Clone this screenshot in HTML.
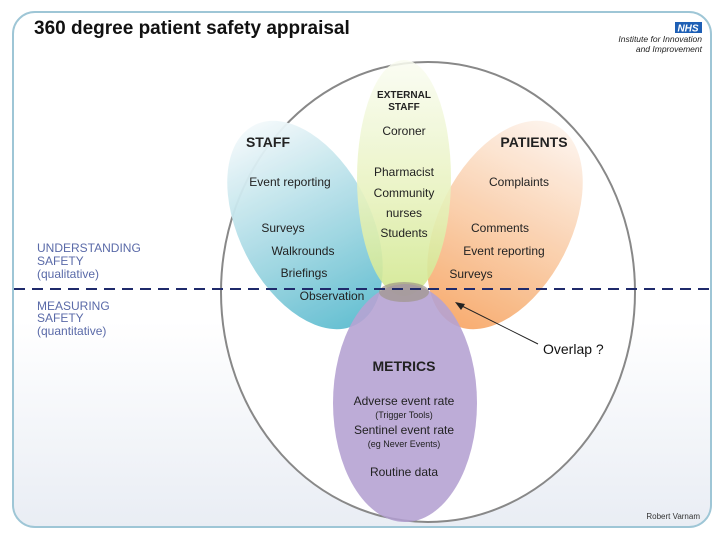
<!DOCTYPE html>
<html><head><meta charset="utf-8"><style>
body{margin:0;background:#fff;}
svg{display:block;font-family:"Liberation Sans","DejaVu Sans",sans-serif;}
</style></head><body>
<svg width="720" height="540" viewBox="0 0 720 540">
<defs>
<linearGradient id="bg" x1="0" y1="0" x2="0" y2="1"><stop offset="0" stop-color="#fff"/><stop offset="0.6" stop-color="#fff"/><stop offset="1" stop-color="#e9edf4"/></linearGradient>
<linearGradient id="gb" x1="0" y1="0" x2="0" y2="1"><stop offset="0" stop-color="#f3f9fb"/><stop offset="0.55" stop-color="#a3d8e3"/><stop offset="1" stop-color="#5fbdd0"/></linearGradient>
<linearGradient id="gg" x1="0" y1="0" x2="0" y2="1"><stop offset="0" stop-color="#fbfdf3"/><stop offset="0.6" stop-color="#e6f2b9"/><stop offset="1" stop-color="#cfe689"/></linearGradient>
<linearGradient id="go" x1="0" y1="0" x2="0" y2="1"><stop offset="0" stop-color="#fdf2ea"/><stop offset="0.55" stop-color="#f9c8a0"/><stop offset="1" stop-color="#f6a462"/></linearGradient>
</defs>
<rect x="13" y="12" width="698" height="515" rx="22" fill="url(#bg)" stroke="#9ec6d6" stroke-width="2"/>
<text x="34" y="34" font-size="19" font-weight="bold" fill="#111">360 degree patient safety appraisal</text>
<rect x="675" y="22" width="27" height="11" fill="#1d5fb5"/>
<text x="688" y="31.5" font-size="10" font-weight="bold" font-style="italic" fill="#fff" text-anchor="middle">NHS</text>
<text x="702" y="42" font-size="8.5" font-style="italic" fill="#222" text-anchor="end">Institute for Innovation</text>
<text x="702" y="52" font-size="8.5" font-style="italic" fill="#222" text-anchor="end">and Improvement</text>

<ellipse cx="428" cy="292" rx="207" ry="230" fill="#fff" stroke="#888" stroke-width="2"/>

<g opacity="0.95">
<ellipse cx="305" cy="225" rx="66" ry="112" transform="rotate(-27 305 225)" fill="url(#gb)"/>
<ellipse cx="505" cy="225" rx="66" ry="112" transform="rotate(27 505 225)" fill="url(#go)" opacity="0.95"/>
<ellipse cx="404" cy="178" rx="47" ry="118" fill="url(#gg)" opacity="0.9"/>
<ellipse cx="405" cy="403" rx="72" ry="119" fill="#b29fd0" opacity="0.9"/>
</g>
<ellipse cx="404" cy="292" rx="25" ry="10" fill="#a0968a" opacity="0.7"/>

<line x1="14" y1="289" x2="712" y2="289" stroke="#1f2a6b" stroke-width="2" stroke-dasharray="11,7"/>
<line x1="538" y1="344" x2="460" y2="305" stroke="#222" stroke-width="1"/>
<polygon points="455,302 465,304 461,310" fill="#222"/>

<g font-size="12" fill="#5a6aa8">
<text x="37" y="252">UNDERSTANDING</text><text x="37" y="265">SAFETY</text><text x="37" y="278">(qualitative)</text>
<text x="37" y="310">MEASURING</text><text x="37" y="322">SAFETY</text><text x="37" y="335">(quantitative)</text>
</g>
<g font-size="12" fill="#222" text-anchor="middle">
<text x="404" y="98" font-size="10" font-weight="bold">EXTERNAL</text>
<text x="404" y="110" font-size="10" font-weight="bold">STAFF</text>
<text x="404" y="135">Coroner</text>
<text x="404" y="176">Pharmacist</text>
<text x="404" y="197">Community</text>
<text x="404" y="217">nurses</text>
<text x="404" y="237">Students</text>
<text x="268" y="147" font-size="14" font-weight="bold">STAFF</text>
<text x="290" y="186">Event reporting</text>
<text x="283" y="232">Surveys</text>
<text x="303" y="255">Walkrounds</text>
<text x="304" y="277">Briefings</text>
<text x="332" y="300">Observation</text>
<text x="534" y="147" font-size="14" font-weight="bold">PATIENTS</text>
<text x="519" y="186">Complaints</text>
<text x="500" y="232">Comments</text>
<text x="504" y="255">Event reporting</text>
<text x="471" y="278">Surveys</text>
<text x="404" y="371" font-size="14" font-weight="bold">METRICS</text>
<text x="404" y="405">Adverse event rate</text>
<text x="404" y="418" font-size="9">(Trigger Tools)</text>
<text x="404" y="434">Sentinel event rate</text>
<text x="404" y="447" font-size="9">(eg Never Events)</text>
<text x="404" y="476">Routine data</text>
</g>
<text x="543" y="354" font-size="14" fill="#111">Overlap ?</text>
<text x="700" y="519" font-size="8" fill="#333" text-anchor="end">Robert Varnam</text>
</svg>
</body></html>
